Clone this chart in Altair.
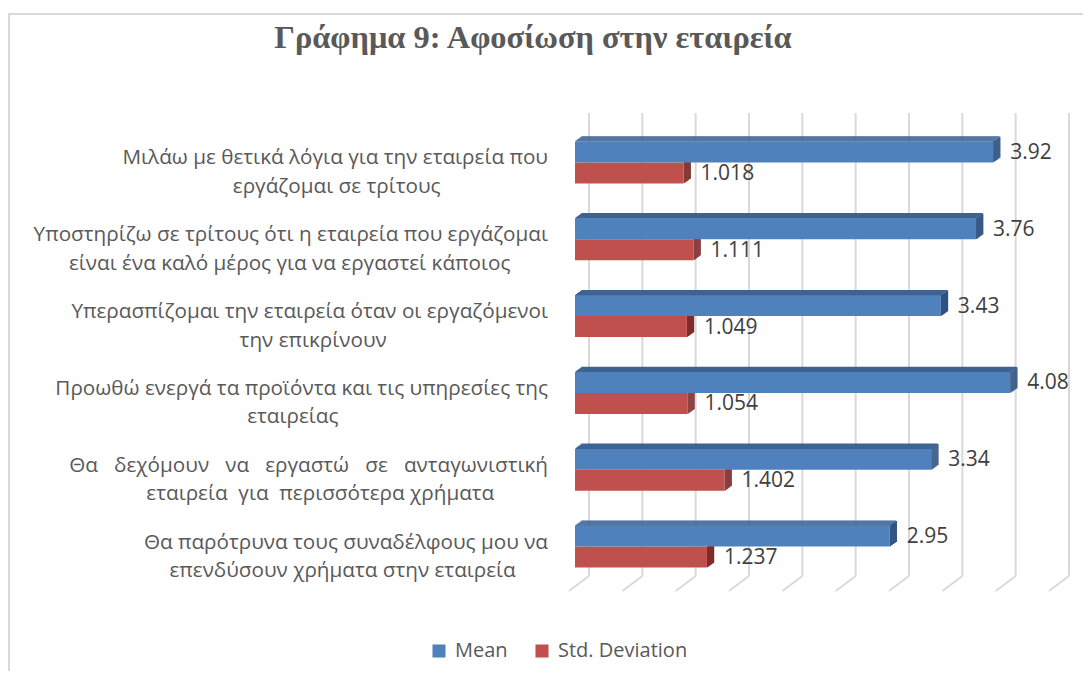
import altair as alt
import pandas as pd

NB = "\u00a0"
END = "\u200b"

# ---- data ----
categories = [
    "Μιλάω με θετικά λόγια για την εταιρεία που\nεργάζομαι σε τρίτους" + NB * 20 + END,
    "Υποστηρίζω σε τρίτους ότι η εταιρεία που εργάζομαι\nείναι ένα καλό μέρος για να εργαστεί κάποιος" + NB * 7 + END,
    "Υπερασπίζομαι την εταιρεία όταν οι εργαζόμενοι\nτην επικρίνουν" + NB * 30 + END,
    "Προωθώ ενεργά τα προϊόντα και τις υπηρεσίες της\nεταιρείας" + NB * 39 + END,
    "Θα" + NB * 2 + " δεχόμουν" + NB * 2 + " να" + NB * 2 + " εργαστώ" + NB * 2 + " σε" + NB * 2
    + " ανταγωνιστική\nεταιρεία" + NB + " για" + NB + " περισσότερα χρήματα" + NB * 10 + END,
    "Θα παρότρυνα τους συναδέλφους μου να\nεπενδύσουν χρήματα στην εταιρεία" + NB * 6 + END,
]
mean_values = [3.92, 3.76, 3.43, 4.08, 3.34, 2.95]
sd_values = [1.018, 1.111, 1.049, 1.054, 1.402, 1.237]
series_names = ["Mean", "Std. Deviation"]
grid_ticks = [0, 0.5, 1, 1.5, 2, 2.5, 3, 3.5, 4, 4.5]
title_text = "Γράφημα 9: Αφοσίωση στην εταιρεία"

# ---- styling ----
BLUE, BLUE_TOP, BLUE_SIDE = "#4F81BD", "#3C6394", "#2F5282"
RED, RED_SIDE = "#C0504D", "#7E2D2B"
GRID = "#D9D9D9"
TXT = "#595959"
W, H = 480, 461
BAR_H = 21
DX, DY = 7, 5  # 3-D depth

df_mean = pd.DataFrame({"cat": categories, "value": mean_values, "series": series_names[0]})
df_sd = pd.DataFrame({"cat": categories, "value": sd_values, "series": series_names[1]})
df_grid = pd.DataFrame({"v": grid_ticks})
df_title = pd.DataFrame({"t": [title_text]})
df_cat = pd.DataFrame({"cat": categories})

xs = alt.Scale(domain=[0, 4.5], nice=False, zero=True)
ys = alt.Scale(domain=categories, paddingInner=0, paddingOuter=0)
X = alt.X("value:Q", scale=xs, axis=None)
Y = alt.Y("cat:N", scale=ys, axis=None, sort=categories)
color = alt.Color("series:N", scale=alt.Scale(domain=series_names, range=[BLUE, RED]),
                  legend=alt.Legend(title=None, orient="none", direction="horizontal",
                                    legendX=-146, legendY=517, symbolType="square",
                                    symbolSize=170, symbolStrokeWidth=0,
                                    labelFontSize=20, labelFont="Open Sans", labelColor=TXT,
                                    columnPadding=24, labelOffset=6))

layers = []

# frame
frame = pd.DataFrame({"a": [0]})
layers.append(alt.Chart(frame).mark_rule(color=GRID, strokeWidth=2).encode(
    x=alt.value(-566), y=alt.value(-110), y2=alt.value(560)))
layers.append(alt.Chart(frame).mark_rule(color=GRID, strokeWidth=2).encode(
    x=alt.value(-567), x2=alt.value(520), y=alt.value(-110)))

# back-wall gridlines and floor
layers.append(alt.Chart(df_grid).mark_rule(color=GRID, strokeWidth=2, xOffset=14).encode(
    x=alt.X("v:Q", scale=xs, axis=None), y=alt.value(-11), y2=alt.value(452)))
layers.append(alt.Chart(df_grid).mark_rule(color=GRID, strokeWidth=2, xOffset=14, x2Offset=-6).encode(
    x=alt.X("v:Q", scale=xs, axis=None), x2="v:Q", y=alt.value(452), y2=alt.value(467)))

# red side face
for k in range(DX):
    layers.append(alt.Chart(df_sd).mark_bar(
        height=BAR_H, yOffset=BAR_H / 2 - (k + 0.5) * DY / DX,
        xOffset=k, x2Offset=k + 1.3, color=RED_SIDE).encode(x=X, x2="value:Q", y=Y))

# front faces
layers.append(alt.Chart(df_sd).mark_bar(height=BAR_H, yOffset=BAR_H / 2).encode(x=X, y=Y, color=color))
layers.append(alt.Chart(df_mean).mark_bar(height=BAR_H, yOffset=-BAR_H / 2).encode(x=X, y=Y, color=color))

# blue top face
for j in range(DY):
    sh = (j + 0.5) * DX / DY
    layers.append(alt.Chart(df_mean).mark_bar(
        height=1.3, yOffset=-BAR_H - (j + 0.5), xOffset=sh, x2Offset=sh, color=BLUE_TOP).encode(
        x=X, x2=alt.datum(0), y=Y))
# blue side face
for k in range(DX):
    layers.append(alt.Chart(df_mean).mark_bar(
        height=BAR_H, yOffset=-BAR_H / 2 - (k + 0.5) * DY / DX,
        xOffset=k, x2Offset=k + 1.3, color=BLUE_SIDE).encode(x=X, x2="value:Q", y=Y))

# value labels
layers.append(alt.Chart(df_mean).mark_text(
    align="left", baseline="middle", dx=17, yOffset=-BAR_H / 2 + 1, fontSize=21,
    font="Open Sans", color="#404040").encode(x=X, y=Y, text=alt.Text("value:Q", format=".2f")))
layers.append(alt.Chart(df_sd).mark_text(
    align="left", baseline="middle", dx=17, yOffset=BAR_H / 2 + 1, fontSize=21,
    font="Open Sans", color="#404040").encode(x=X, y=Y, text=alt.Text("value:Q", format=".3f")))

# category labels
layers.append(alt.Chart(df_cat).mark_text(
    align="right", baseline="middle", lineBreak="\n", lineHeight=28.5, fontSize=20.7,
    font="Open Sans", color=TXT, yOffset=-4).encode(
    y=Y, x=alt.value(-27), text="cat:N"))

# title
layers.append(alt.Chart(df_title).mark_text(
    align="center", baseline="middle", fontSize=32.4, fontWeight="bold",
    font="Liberation Serif", color=TXT).encode(
    x=alt.value(-42), y=alt.value(-86), text="t:N"))

chart = alt.layer(*layers).properties(
    width=W, height=H,
    autosize=alt.AutoSizeParams(type="none"),
    padding={"left": 567, "top": 116, "right": 28, "bottom": 86},
).configure_view(stroke=None)

chart.save("out.html", embed_options={"renderer": "svg", "actions": False})
